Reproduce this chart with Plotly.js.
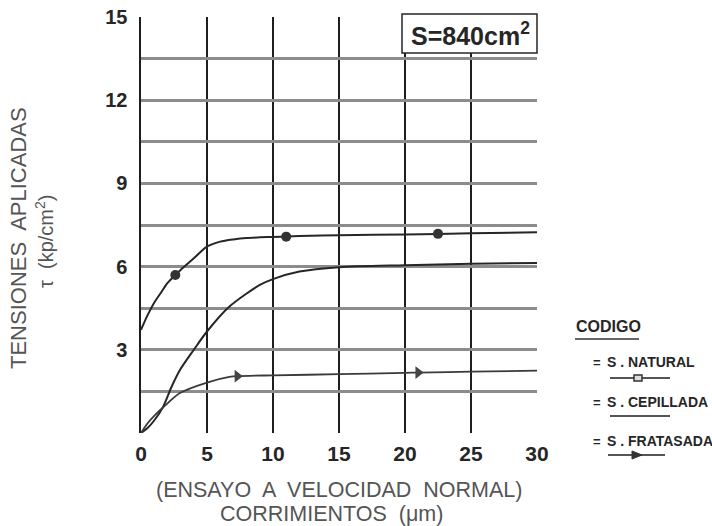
<!DOCTYPE html>
<html>
<head>
<meta charset="utf-8">
<script src="https://cdn.plot.ly/plotly-3.0.1.min.js"></script>
<style>
  html, body { margin: 0; padding: 0; background: #ffffff; }
  #chart { width: 712px; height: 526px; }
</style>
</head>
<body>
<div id="chart"></div>
<script>
// Shear stress vs. displacement for three surface finishes (normal-speed test)

// S. NATURAL curve
const natX = [0, 0.5, 1, 1.5, 2, 2.6, 3, 4, 5, 6, 7, 8, 10, 12, 15, 20, 25, 30];
const natY = [3.72, 4.25, 4.7, 5.05, 5.4, 5.7, 5.88, 6.3, 6.72, 6.9, 6.98, 7.03, 7.07, 7.1, 7.13, 7.16, 7.2, 7.24];
const natMarkX = [2.6, 11, 22.5];
const natMarkY = [5.7, 7.08, 7.18];

// S. CEPILLADA curve
const cepX = [0, 0.5, 1, 1.67, 2.3, 2.95, 4, 5, 6.7, 9, 10, 12, 15, 20, 25, 30];
const cepY = [0, 0.18, 0.45, 0.94, 1.65, 2.27, 3.0, 3.66, 4.56, 5.34, 5.55, 5.82, 5.98, 6.05, 6.1, 6.13];

// S. FRATASADA curve
const fraX = [0, 0.5, 1, 1.67, 2.95, 5, 6.7, 7.3, 10, 15, 20, 21, 25, 30];
const fraY = [0, 0.35, 0.62, 0.92, 1.44, 1.82, 2.02, 2.05, 2.08, 2.12, 2.17, 2.18, 2.21, 2.25];
const fraMarkX = [7.3, 21];
const fraMarkY = [2.05, 2.18];

// Axis ticks
const xTicks = [0, 5, 10, 15, 20, 25, 30];
const yTicks = [0, 1.5, 3, 4.5, 6, 7.5, 9, 10.5, 12, 13.5, 15];
const yTickText = ['', '', '3', '', '6', '', '9', '', '12', '', '15'];

// Titles and legend entries
const xTitleLines = ['(ENSAYO  A  VELOCIDAD  NORMAL)', 'CORRIMIENTOS  (μm)'];
const yTitleLines = ['TENSIONES  APLICADAS', 'τ  (kp/cm<sup>2</sup>)'];
const legendTitle = 'CODIGO';
const legendNames = ['S . NATURAL', 'S . CEPILLADA', 'S . FRATASADA'];

const bold = 'Liberation Sans, Arial, Helvetica, sans-serif';
const plain = 'Liberation Sans, Arial, Helvetica, sans-serif';
const ink = '#262626';
const soft = '#555555';

// plot area in pixels: left 141, right 537, top 17, bottom 433
const L = 141, R = 537, T = 17, B = 433;
const px = v => (v - L) / (R - L);
const py = v => (B - v) / (B - T);

const lineStyle = { color: ink, width: 2, shape: 'spline', smoothing: 0.8 };

const traces = [
  { x: natX, y: natY, mode: 'lines', line: lineStyle, hoverinfo: 'skip' },
  { x: cepX, y: cepY, mode: 'lines', line: lineStyle, hoverinfo: 'skip' },
  { x: fraX, y: fraY, mode: 'lines', line: Object.assign({}, lineStyle, { width: 1.8, color: '#3a3a3a' }), hoverinfo: 'skip' },
  { x: natMarkX, y: natMarkY, mode: 'markers',
    marker: { symbol: 'circle', size: 10, color: '#333333' }, hoverinfo: 'skip' },
  { x: fraMarkX, y: fraMarkY, mode: 'markers',
    marker: { symbol: 'triangle-right', size: 11, color: '#444444' }, hoverinfo: 'skip' }
];

const shapes = [
  // S = 840 cm² label box
  { type: 'rect', xref: 'paper', yref: 'paper', x0: px(402), x1: px(537), y0: py(53), y1: py(14),
    fillcolor: '#ffffff', line: { color: ink, width: 1.5 }, layer: 'above' },
  // legend heading underline
  { type: 'line', xref: 'paper', yref: 'paper', x0: px(575), x1: px(639), y0: py(339), y1: py(339),
    line: { color: '#666666', width: 2 } },
  // legend samples
  { type: 'line', xref: 'paper', yref: 'paper', x0: px(610), x1: px(670), y0: py(378), y1: py(378),
    line: { color: '#555555', width: 2 } },
  { type: 'rect', xref: 'paper', yref: 'paper', x0: px(634), x1: px(642), y0: py(381), y1: py(375),
    fillcolor: '#dddddd', line: { color: '#333333', width: 1.5 } },
  { type: 'line', xref: 'paper', yref: 'paper', x0: px(610), x1: px(670), y0: py(416), y1: py(416),
    line: { color: '#555555', width: 2 } },
  { type: 'line', xref: 'paper', yref: 'paper', x0: px(608), x1: px(665), y0: py(455), y1: py(455),
    line: { color: '#555555', width: 2 } },
  { type: 'path', xref: 'paper', yref: 'paper',
    path: 'M ' + px(632) + ' ' + py(451) + ' L ' + px(642) + ' ' + py(455) + ' L ' + px(632) + ' ' + py(459) + ' Z',
    fillcolor: '#333333', line: { color: '#333333', width: 1 } }
];

const annotations = [
  { xref: 'paper', yref: 'paper', x: px(470), y: py(34), xanchor: 'center', yanchor: 'middle',
    text: 'S=840cm<sup>2</sup>', showarrow: false,
    font: { family: bold, size: 25, color: ink, weight: 'bold' } },
  // y-axis title (two lines)
  { xref: 'paper', yref: 'paper', x: px(18), y: py(238), xanchor: 'center', yanchor: 'middle',
    text: yTitleLines[0], showarrow: false, textangle: -90,
    font: { family: plain, size: 22, color: soft } },
  { xref: 'paper', yref: 'paper', x: px(44), y: py(242), xanchor: 'center', yanchor: 'middle',
    text: yTitleLines[1], showarrow: false, textangle: -90,
    font: { family: plain, size: 20, color: soft } },
  // x-axis title (two lines)
  { xref: 'paper', yref: 'paper', x: px(339), y: py(490), xanchor: 'center', yanchor: 'middle',
    text: xTitleLines[0], showarrow: false,
    font: { family: plain, size: 21.5, color: soft } },
  { xref: 'paper', yref: 'paper', x: px(331), y: py(514), xanchor: 'center', yanchor: 'middle',
    text: xTitleLines[1], showarrow: false,
    font: { family: plain, size: 21.5, color: soft } },
  // legend
  { xref: 'paper', yref: 'paper', x: px(574), y: py(326), xanchor: 'left', yanchor: 'middle',
    text: legendTitle, showarrow: false,
    font: { family: bold, size: 16, color: ink, weight: 'bold' } }
];

const entryY = [362, 402, 441];
legendNames.forEach((name, i) => {
  annotations.push({ xref: 'paper', yref: 'paper', x: px(591), y: py(entryY[i]), xanchor: 'left', yanchor: 'middle',
    text: '=', showarrow: false, font: { family: bold, size: 13, color: ink, weight: 'bold' } });
  annotations.push({ xref: 'paper', yref: 'paper', x: px(605), y: py(entryY[i]), xanchor: 'left', yanchor: 'middle',
    text: name, showarrow: false, font: { family: bold, size: 14, color: ink, weight: 'bold' } });
});

const layout = {
  width: 712, height: 526,
  margin: { l: L, r: 712 - R, t: T, b: 526 - B, pad: 0 },
  paper_bgcolor: '#ffffff', plot_bgcolor: '#ffffff',
  showlegend: false,
  xaxis: {
    range: [0, 30], tickmode: 'array', tickvals: xTicks,
    showgrid: true, gridcolor: '#1e1e1e', gridwidth: 1.4,
    zeroline: false, showline: false, ticks: '',
    ticklabelstandoff: 6,
    tickfont: { family: bold, size: 21, color: ink, weight: 'bold' },
    fixedrange: true
  },
  yaxis: {
    range: [0, 15], tickmode: 'array', tickvals: yTicks, ticktext: yTickText,
    showgrid: true, gridcolor: '#8c8c8c', gridwidth: 3,
    zeroline: false, showline: true, linecolor: '#1e1e1e', linewidth: 1.6, ticks: '',
    ticklabelstandoff: 8,
    tickfont: { family: bold, size: 20, color: ink, weight: 'bold' },
    fixedrange: true
  },
  shapes: shapes,
  annotations: annotations
};

Plotly.newPlot('chart', traces, layout, { displayModeBar: false, staticPlot: true });
</script>
</body>
</html>
